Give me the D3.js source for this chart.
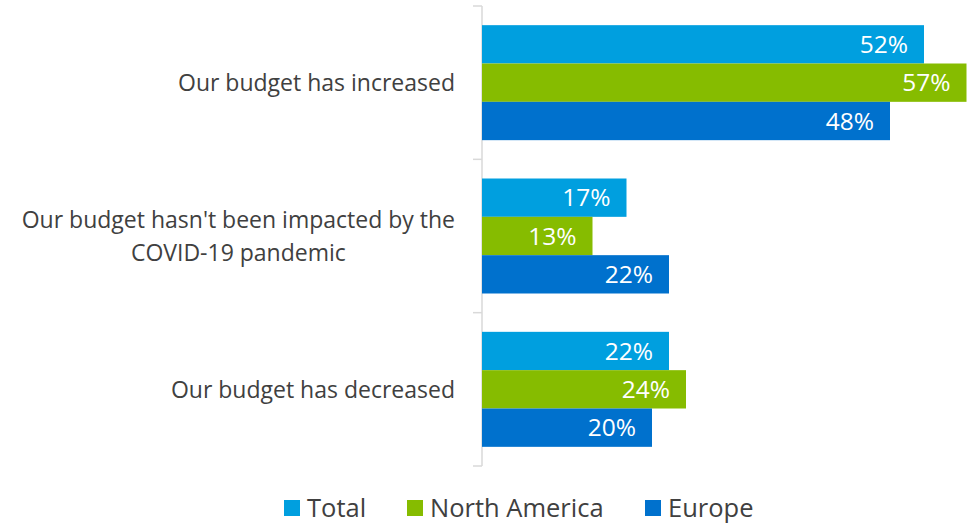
<!DOCTYPE html>
<html>
<head>
<meta charset="utf-8">
<script src="https://cdn.jsdelivr.net/npm/d3@7"></script>
<style>
  body { margin: 0; background: #fff; }
  text { font-family: "Open Sans", sans-serif; }
</style>
</head>
<body>
<script>
var width = 971,
    height = 526;

// data
var categories = ["Our budget has increased",
                  "Our budget hasn't been impacted by the|COVID-19 pandemic",
                  "Our budget has decreased"];
var series = ["Total", "North America", "Europe"];
var total = [52, 17, 22];
var northAmerica = [57, 13, 24];
var europe = [48, 22, 20];
var colors = ["#009fdf", "#86bc00", "#0071cd"];

var values = [total, northAmerica, europe];
var rows = [];
categories.forEach(function (c, i) {
    series.forEach(function (s, j) {
        rows.push({cat: c, ser: s, val: values[j][i], col: colors[j]});
    });
});

var svg = d3.select("body").append("svg").attr("width", width).attr("height", height);

var x = d3.scaleLinear().domain([0, 57.6]).range([482, 971.6]);
var y = d3.scaleBand().domain(categories).range([6, 466]);
var y2 = d3.scaleBand().domain(series).range([0, y.bandwidth()]).paddingOuter(0.5);

// axis with ticks at band boundaries
var yAxis = svg.append("g").attr("transform", "translate(482,0)");
yAxis.append("line")
    .attr("x1", 0).attr("x2", 0)
    .attr("y1", y.range()[0]).attr("y2", y.range()[1])
    .attr("stroke", "#d9d9d9").attr("stroke-width", 1.5);
var bounds = categories.map(function (c) { return y(c); }).concat([y.range()[1]]);
yAxis.selectAll("line.tick").data(bounds).enter().append("line")
    .attr("class", "tick")
    .attr("x1", -9).attr("x2", 0)
    .attr("y1", function (d) { return d; }).attr("y2", function (d) { return d; })
    .attr("stroke", "#d9d9d9").attr("stroke-width", 1.5);

svg.selectAll("rect.bar").data(rows).enter().append("rect")
    .attr("class", "bar")
    .attr("x", x(0))
    .attr("y", function (d) { return y(d.cat) + y2(d.ser); })
    .attr("width", function (d) { return x(d.val) - x(0); })
    .attr("height", y2.bandwidth())
    .attr("fill", function (d) { return d.col; });

svg.selectAll("text.val").data(rows).enter().append("text")
    .attr("class", "val")
    .attr("x", function (d) { return x(d.val) - 16; })
    .attr("y", function (d) { return y(d.cat) + y2(d.ser) + y2.bandwidth() / 2; })
    .attr("dy", "0.36em")
    .attr("text-anchor", "end")
    .attr("fill", "#fff")
    .style("font-size", "24.5px")
    .text(function (d) { return d.val + "%"; });

// category labels, multi-line ones centered on their widest line
svg.selectAll("g.cat").data(categories).enter().append("g")
    .attr("class", "cat")
    .each(function (c) {
        var g = d3.select(this);
        var lines = c.split("|");
        var lh = 33;
        var cy = y(c) + y.bandwidth() / 2;
        var t = g.selectAll("text").data(lines).enter().append("text")
            .attr("y", function (d, i) { return cy + (i - (lines.length - 1) / 2) * lh; })
            .attr("dy", "0.36em")
            .attr("text-anchor", "middle")
            .attr("fill", "#404040")
            .style("font-size", "23px")
            .text(function (d) { return d; });
        var maxW = 0;
        t.each(function () { maxW = Math.max(maxW, this.getComputedTextLength()); });
        t.attr("x", 455 - maxW / 2);
    });

// legend
var legX = [284, 407, 645];
var leg = svg.selectAll("g.leg").data(series).enter().append("g")
    .attr("class", "leg")
    .attr("transform", function (d, i) { return "translate(" + legX[i] + ",500)"; });
leg.append("rect").attr("width", 16).attr("height", 16)
    .attr("fill", function (d, i) { return colors[i]; });
leg.append("text").attr("x", 23).attr("y", 8).attr("dy", "0.36em")
    .attr("fill", "#404040")
    .style("font-size", "25.5px")
    .text(function (d) { return d; });
</script>
</body>
</html>
